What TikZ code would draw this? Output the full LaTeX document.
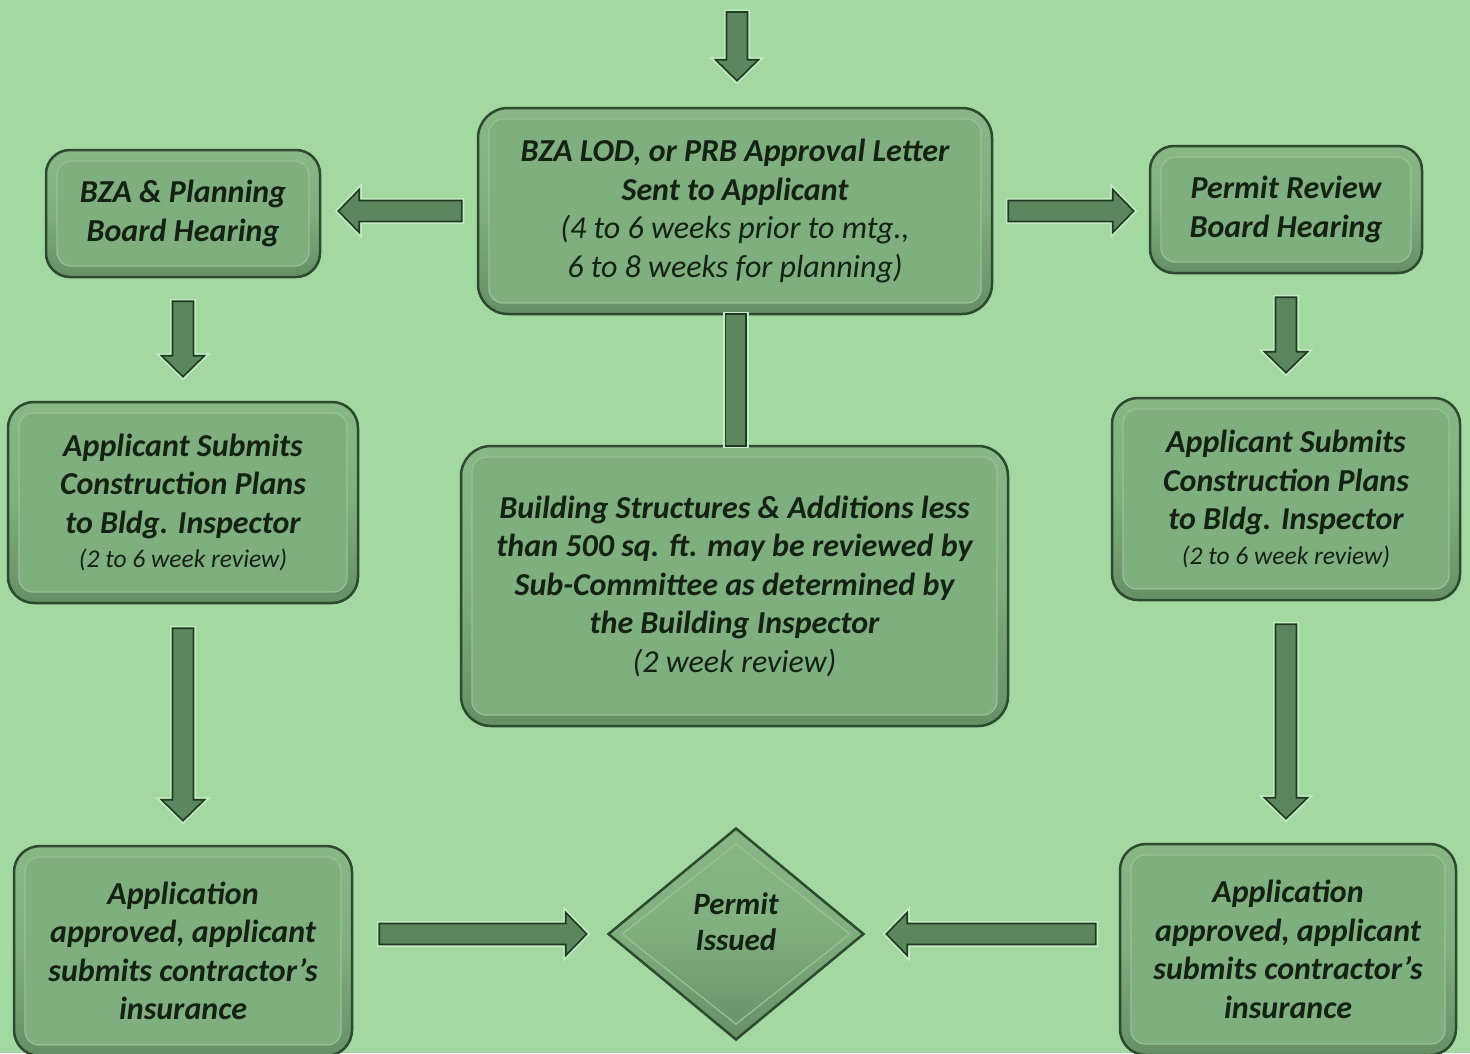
\documentclass[tikz,border=0pt]{standalone}
\usepackage{fontspec}
\setmainfont{Carlito}
\usetikzlibrary{calc,shapes.geometric}
\definecolor{bg}{HTML}{A3D8A3}
\definecolor{boxfill}{HTML}{7FAE7F}
\definecolor{boxtop}{HTML}{88B888}
\definecolor{boxbot}{HTML}{668F66}
\definecolor{boxedge}{HTML}{2C4A2D}
\definecolor{bevelc}{HTML}{97C197}
\definecolor{arrfill}{HTML}{5C865D}
\definecolor{arredge}{HTML}{1E3A20}
\definecolor{halo}{HTML}{C4ECC4}
\definecolor{txt}{HTML}{142214}
\newcommand{\mainfs}{\fontsize{32}{38.5}\selectfont}
\newcommand{\smallfs}{\fontsize{25.5}{34}\selectfont}
\newcommand{\blockarr}[2]{%
  \coordinate (ba-s) at #1;
  \coordinate (ba-e) at #2;
  \coordinate (ba-h) at ($(ba-e)!21pt!(ba-s)$);
  \draw[arrst] ($(ba-s)!10.5pt!90:(ba-e)$) -- ($(ba-h)!10.5pt!90:(ba-e)$)
    -- ($(ba-h)!21.5pt!90:(ba-e)$) -- (ba-e) -- ($(ba-h)!21.5pt!-90:(ba-e)$)
    -- ($(ba-h)!10.5pt!-90:(ba-e)$) -- ($(ba-s)!10.5pt!-90:(ba-e)$) -- cycle;
}
\tikzset{
  arrst/.style={fill=arrfill, draw=arredge, line width=1.6pt, line join=miter,
    preaction={draw=halo, line width=5pt}},
  boxst/.style={draw=boxedge, line width=2.5pt, rounded corners=#1,
    top color=boxtop, bottom color=boxbot, middle color=boxfill,
    inner sep=0pt, align=center, text=txt, font=\bfseries\itshape\mainfs,
    path picture={
      \draw[draw=bevelc, line width=1.3pt, fill=boxfill, rounded corners=14pt]
        ([shift={(11pt,-11pt)}]path picture bounding box.north west) rectangle
        ([shift={(-11pt,11pt)}]path picture bounding box.south east);
    }},
  boxst/.default=24pt,
  diast/.style={shape=diamond, draw=boxedge, line width=2.5pt,
    top color=boxtop, bottom color=boxbot, middle color=boxfill, inner sep=0pt},
  diatxt/.style={align=center, text=txt, inner sep=0pt,
    font=\bfseries\itshape\fontsize{31}{36}\selectfont},
}
\begin{document}
\begin{tikzpicture}[x=1pt,y=-1pt]
\useasboundingbox (0,0) rectangle (1470,1053);
\fill[bg] (0,0) rectangle (1470,1053);

% nodes
\node[boxst=30pt, minimum width=514pt, minimum height=206pt] (ctop) at (735,211)
  {BZA LOD, or PRB Approval Letter\\Sent to Applicant\\
   {\mdseries (4 to 6 weeks prior to mtg.,}\\{\mdseries 6 to 8 weeks for planning)}};
\node[boxst, minimum width=274pt, minimum height=127pt] (bza) at (183,213.5)
  {BZA \& Planning\\Board Hearing};
\node[boxst, minimum width=272pt, minimum height=127pt] (prh) at (1286,209.5)
  {Permit Review\\Board Hearing};
\node[boxst=26pt, minimum width=350pt, minimum height=201pt] (las) at (183,502.5)
  {Applicant Submits\\Construction Plans\\to Bldg. Inspector\\[-4pt]
   {\mdseries\smallfs (2 to 6 week review)}};
\node[boxst=26pt, minimum width=348pt, minimum height=202pt] (ras) at (1286,499)
  {Applicant Submits\\Construction Plans\\to Bldg. Inspector\\[-4pt]
   {\mdseries\smallfs (2 to 6 week review)}};
\node[boxst=30pt, minimum width=547pt, minimum height=280pt] (cmid) at (734.5,586)
  {Building Structures \& Additions less\\than 500 sq. ft. may be reviewed by\\
   Sub-Committee as determined by\\the Building Inspector\\{\mdseries (2 week review)}};
\node[boxst=26pt, minimum width=338pt, minimum height=210pt] (lapp) at (183,951)
  {Application\\approved, applicant\\submits contractor’s\\insurance};
\node[boxst=26pt, minimum width=336pt, minimum height=211pt] (rapp) at (1288,949.5)
  {Application\\approved, applicant\\submits contractor’s\\insurance};
\node[diast, minimum width=256pt, minimum height=212pt] (dia) at (736,934) {};
\draw[draw=bevelc, line width=1.3pt]
  ($(dia.center)!0.84!(dia.north)$) -- ($(dia.center)!0.88!(dia.east)$) --
  ($(dia.center)!0.84!(dia.south)$) -- ($(dia.center)!0.88!(dia.west)$) -- cycle;
\node[diatxt] (diat) at ($(dia.center)+(0,12pt)$) {Permit\\Issued};

% connectors
\coordinate (topin) at (737,12);
\blockarr{(topin)}{($(ctop.north -| topin)+(0,26pt)$)}
\blockarr{($(ctop.west)+(-15pt,0)$)}{($(bza.east |- ctop.west)+(17pt,0)$)}
\blockarr{($(ctop.east)+(15pt,0)$)}{($(prh.west |- ctop.east)+(-15pt,0)$)}
\blockarr{($(bza.south)+(0,-23pt)$)}{($(las.north)+(0,24pt)$)}
\blockarr{($(prh.south)+(0,-23pt)$)}{($(ras.north -| prh.south)+(0,24pt)$)}
\blockarr{($(las.south)+(0,-24pt)$)}{($(lapp.north)+(0,24pt)$)}
\blockarr{($(ras.south)+(0,-23pt)$)}{($(rapp.north -| ras.south)+(0,24pt)$)}
\blockarr{($(lapp.east |- dia.west)+(26pt,0)$)}{($(dia.west)+(-20pt,0)$)}
\blockarr{($(rapp.west |- dia.east)+(-23pt,0)$)}{($(dia.east)+(21pt,0)$)}
\draw[arrst] ($(ctop.south)+(-9.5pt,1pt)$) rectangle ($(cmid.north -| ctop.south)+(11pt,-1pt)$);
\end{tikzpicture}
\end{document}
